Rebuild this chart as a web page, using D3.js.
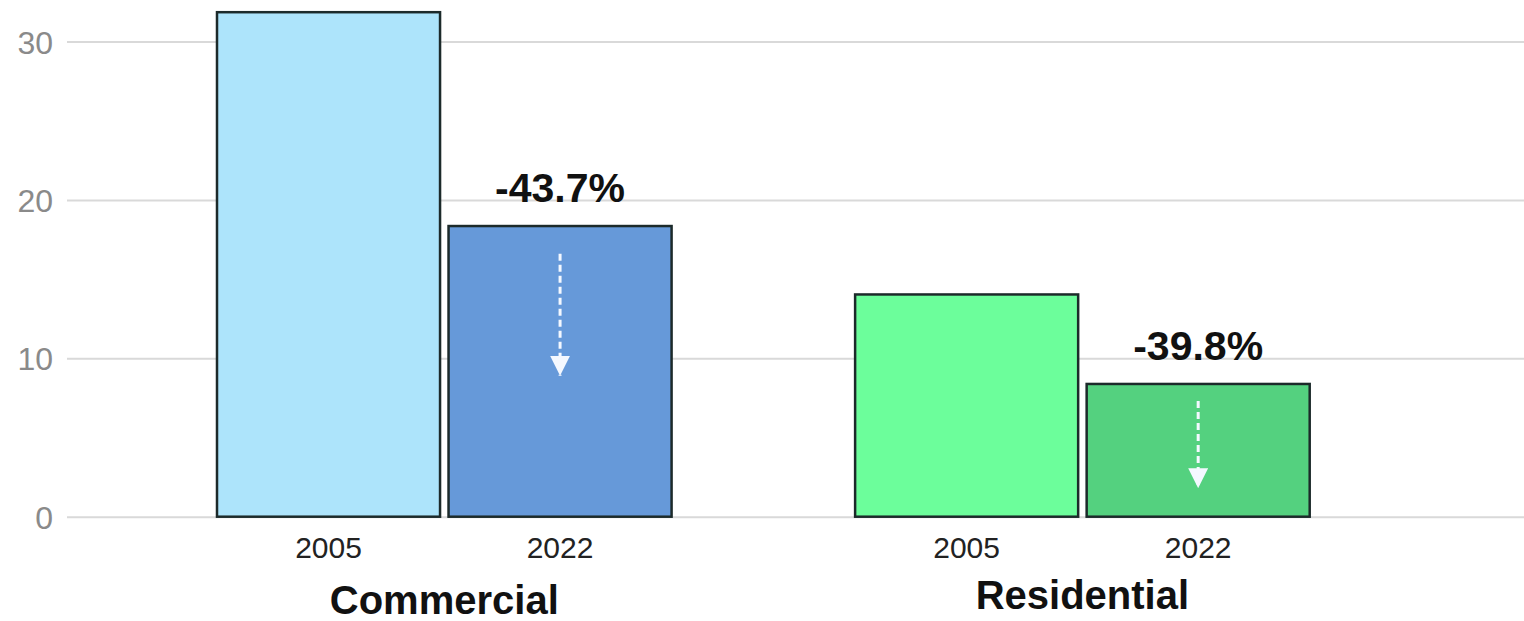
<!DOCTYPE html>
<html>
<head>
<meta charset="utf-8">
<script src="https://cdn.jsdelivr.net/npm/d3@7"></script>
<style>
  html, body { margin: 0; padding: 0; background: #fff; }
  svg { display: block; }
</style>
</head>
<body>
<svg id="chart" width="1524" height="621"></svg>
<script>
// ---- data ----
const categories = ["Commercial", "Residential"];
const years = ["2005", "2022"];
const valuesCommercial = [31.85, 18.35];
const valuesResidential = [14.03, 8.38];
const changeLabels = ["-43.7%", "-39.8%"];
const arrowFrom = [16.6, 7.3];
const arrowTo = [8.9, 1.8];
const yTicks = [0, 10, 20, 30];
const barColors = {
  Commercial: ["#ade4fb", "#6699d9"],
  Residential: ["#6cfe9b", "#54d17f"]
};

const series = { Commercial: valuesCommercial, Residential: valuesResidential };

// ---- layout ----
const svg = d3.select("#chart");
const gridLeft = 67, gridRight = 1524;

const y = d3.scaleLinear().domain([0, 30]).range([516.7, 41.5]);

const x0 = d3.scaleBand().domain(categories).range([217, 1309.7])
  .paddingInner(0.2876).paddingOuter(0);
const x1 = d3.scaleBand().domain(years).range([0, x0.bandwidth()])
  .paddingInner(0.0367).paddingOuter(0);

// gridlines + y tick labels
const yAxis = d3.axisLeft(y).tickValues(yTicks)
  .tickSize(-(gridRight - gridLeft)).tickPadding(14);
const gy = svg.append("g").attr("transform", `translate(${gridLeft},0)`).call(yAxis);
gy.select(".domain").remove();
gy.selectAll(".tick line").attr("stroke", "#d9d9d9").attr("stroke-width", 2);
gy.selectAll(".tick text")
  .attr("fill", "#8a8a8a")
  .style("font-family", "'Liberation Sans', Arial, sans-serif")
  .style("font-size", "32px")
  .attr("dy", "0.36em");

// defs for arrowhead
const defs = svg.append("defs");
defs.append("marker")
  .attr("id", "ah").attr("viewBox", "0 0 10 10")
  .attr("refX", 10).attr("refY", 5)
  .attr("markerWidth", 20).attr("markerHeight", 20)
  .attr("markerUnits", "userSpaceOnUse")
  .attr("orient", "auto")
  .append("path").attr("d", "M0,0 L10,5 L0,10 Z").attr("fill", "#f4f8ff");

// groups
categories.forEach((cat, ci) => {
  const g = svg.append("g").attr("transform", `translate(${x0(cat)},0)`);
  const vals = series[cat];

  g.selectAll("rect").data(years).enter().append("rect")
    .attr("x", d => x1(d))
    .attr("y", (d, i) => y(vals[i]))
    .attr("width", x1.bandwidth())
    .attr("height", (d, i) => y(0) - y(vals[i]))
    .attr("fill", (d, i) => barColors[cat][i])
    .attr("stroke", "#1c2a2a")
    .attr("stroke-width", 2.5);

  // year labels
  g.selectAll("text.yr").data(years).enter().append("text")
    .attr("class", "yr")
    .attr("x", d => x1(d) + x1.bandwidth() / 2)
    .attr("y", 558)
    .attr("text-anchor", "middle")
    .attr("fill", "#222")
    .style("font-family", "'Liberation Sans', Arial, sans-serif")
    .style("font-size", "30px")
    .text(d => d);

  const cx = x1(years[1]) + x1.bandwidth() / 2;
  // change label
  g.append("text")
    .attr("x", cx)
    .attr("y", y(vals[1]) - 24)
    .attr("text-anchor", "middle")
    .attr("fill", "#111")
    .style("font-family", "'Liberation Sans', Arial, sans-serif")
    .style("font-weight", "bold")
    .style("font-size", "41px")
    .text(changeLabels[ci]);

  // dashed arrow
  g.append("line")
    .attr("x1", cx).attr("x2", cx)
    .attr("y1", y(arrowFrom[ci])).attr("y2", y(arrowTo[ci]))
    .attr("stroke", "#f4f8ff")
    .attr("stroke-width", 3)
    .attr("stroke-dasharray", "7,4")
    .attr("marker-end", "url(#ah)");

  // category label
  g.append("text")
    .attr("x", x0.bandwidth() / 2)
    .attr("y", ci === 0 ? 614 : 609)
    .attr("text-anchor", "middle")
    .attr("fill", "#111")
    .style("font-family", "'Liberation Sans', Arial, sans-serif")
    .style("font-weight", "bold")
    .style("font-size", "40px")
    .text(cat);
});
</script>
</body>
</html>
